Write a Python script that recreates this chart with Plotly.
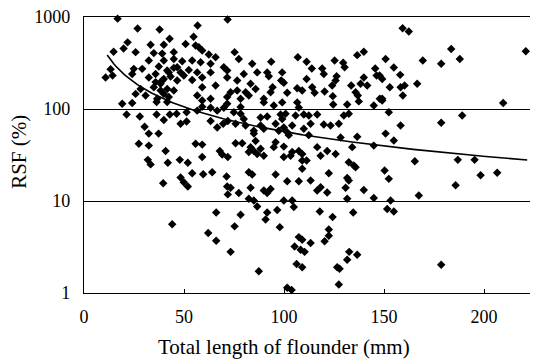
import numpy as np
import plotly.graph_objects as go

# (total length mm, RSF %) pairs, grouped by region
upper_left = [(16.8, 960), (71.8, 940), (26.8, 750), (37.8, 730), (56.8, 810), (42.8, 580),
              (54.8, 610), (21.8, 530), (14.8, 420), (19.8, 455), (13.3, 270), (10.8, 220), (14.3, 231)]

dense_cluster = [(33.3, 500), (39.9, 500), (50.8, 510), (55.8, 490), (57.4, 470), (25.8, 415),
                 (34.9, 405), (39.1, 400), (44.9, 415), (59.1, 432), (62.4, 392), (65.8, 365),
                 (75.3, 415), (77.4, 350), (32.4, 337), (39.9, 337), (44.9, 350), (49.1, 330),
                 (54.1, 337), (58.3, 322), (63.3, 310), (69.9, 285), (84.1, 310), (24.9, 273),
                 (29.1, 273), (37.4, 290), (41.6, 262), (44.9, 280), (48.3, 250), (52.4, 266),
                 (56.6, 250), (63.3, 250), (71.6, 262), (79.9, 240), (86.6, 250), (24.1, 240),
                 (32.4, 220), (35.8, 240), (39.9, 212), (43.3, 226), (46.6, 204), (49.9, 231),
                 (54.1, 207), (59.1, 220), (71.6, 220), (76.6, 204), (83.3, 188), (28.3, 165),
                 (34.9, 172), (38.3, 188), (41.6, 165), (44.9, 159), (59.1, 172), (65.8, 180),
                 (73.3, 152), (76.6, 159), (80.8, 152), (85.8, 165), (25.8, 146), (30.8, 140),
                 (36.6, 129), (39.9, 146), (42.4, 135), (56.6, 140), (59.1, 124), (63.3, 129),
                 (71.6, 135), (78.3, 129), (82.4, 140), (42.4, 250), (39.1, 204), (46.6, 285),
                 (35.8, 196), (38.3, 159)]

lower_left = [(19.1, 114), (24.1, 116), (36.3, 119), (41.6, 119), (21.3, 87), (27.9, 83),
              (36.3, 87), (39.9, 76), (42.9, 87), (46.3, 89), (48.3, 69), (51.3, 73),
              (51.3, 92), (56.6, 96), (59.1, 106), (63.3, 103), (66.6, 96), (69.9, 103),
              (71.6, 114), (63.3, 74), (66.6, 63), (69.6, 69), (71.9, 74), (30.3, 64),
              (32.4, 54), (37.3, 54), (27.4, 42), (32.4, 40), (40.8, 35), (55.8, 42),
              (59.1, 41), (59.1, 30), (67.9, 35), (69.1, 32), (71.9, 30), (31.9, 28),
              (33.3, 25), (41.9, 26), (47.9, 28), (51.9, 26), (54.1, 20), (59.6, 19.5),
              (64.1, 20.5), (71.3, 18.5), (48.3, 18), (49.9, 16), (51.9, 14.4), (39.6, 15.6),
              (71.6, 14.4), (71.9, 11.8), (44.1, 5.6), (66.1, 7.5), (62.1, 4.5), (66.1, 3.7)]

upper_middle = [(93.6, 327), (106.9, 365), (111.3, 327), (113.9, 275), (125.3, 337), (129.6, 318),
                (130.3, 285), (136.6, 385), (139.9, 420), (145.6, 275), (91.6, 250), (92.4, 227),
                (99.1, 250), (98.6, 204), (99.9, 193), (111.3, 212), (119.1, 275), (119.9, 240),
                (126.3, 227), (125.8, 204), (139.9, 220), (146.3, 231), (94.3, 172), (93.3, 152),
                (89.9, 129), (101.6, 150), (106.6, 168), (109.1, 159), (114.1, 172), (115.3, 150),
                (120.3, 155), (124.1, 180), (133.6, 180), (138.3, 188), (141.6, 180), (135.8, 152),
                (136.9, 140), (124.4, 138), (137.4, 121), (147.9, 129)]

upper_right = [(159.3, 755), (162.4, 695), (183.6, 450), (187.9, 350), (220.9, 425), (150.8, 350),
               (169.4, 337), (178.6, 310), (154.9, 282), (147.8, 231), (149.1, 212), (158.1, 235),
               (166.6, 188), (152.9, 172), (158.3, 172), (160.3, 180), (159.4, 140), (149.1, 129)]

middle = [(78.3, 105), (89.9, 118), (94.9, 109), (99.1, 118), (106.6, 118), (107.4, 104),
          (124.6, 112), (131.6, 112), (144.9, 109), (74.9, 92), (78.3, 89), (79.9, 78),
          (88.3, 81), (91.6, 83), (98.3, 87), (99.1, 78), (100.8, 89), (105.8, 85),
          (109.9, 87), (112.4, 85), (116.6, 87), (113.3, 69), (119.9, 68), (123.3, 66),
          (127.4, 69), (129.9, 85), (132.4, 89), (75.8, 69), (80.8, 66), (84.9, 58),
          (88.3, 66), (89.9, 61), (95.8, 69), (97.4, 58), (99.9, 63), (101.6, 56),
          (102.4, 52), (104.1, 66), (109.9, 61), (112.4, 52), (84.9, 54), (136.6, 50),
          (128.3, 49), (75.8, 42.5), (79.1, 42.5), (83.3, 38.5), (85.8, 45), (82.4, 34),
          (84.9, 35), (86.6, 32.5), (88.3, 37), (89.9, 31), (95.8, 43.5), (94.9, 38.5),
          (99.9, 39), (104.1, 34), (107.4, 35), (109.1, 32.5), (103.3, 31), (116.6, 38.5),
          (121.6, 35), (125.8, 32.5), (118.3, 31), (134.1, 38.5), (144.9, 40), (99.9, 30),
          (109.1, 27.5), (111.3, 27.5), (109.1, 22.4), (122.4, 20), (132.4, 26.4), (134.9, 24.3),
          (135.8, 23.3), (95.8, 19.4), (82.4, 20.5), (84.1, 19.4), (73.3, 13.9), (77.4, 12.2),
          (83.3, 13.9), (89.9, 13.0), (91.6, 12.2), (93.3, 13.5), (101.6, 16.4), (107.4, 16.4),
          (113.3, 16.7), (118.3, 14.1), (116.6, 13.0), (121.6, 12.4), (131.6, 17.8), (132.4, 16.7),
          (130.8, 13.9), (139.9, 13.2), (131.6, 10.6), (144.9, 10.8), (82.4, 10.6), (84.9, 10.1),
          (99.9, 10.1), (104.1, 10.1)]

lower_middle = [(86.6, 8.7), (104.9, 8.6), (78.3, 7.1), (91.6, 7.5), (96.6, 8.0), (90.8, 6.3),
                (75.3, 5.3), (97.9, 5.2), (117.9, 7.7), (124.3, 6.7), (134.6, 7.5), (122.4, 4.9),
                (122.4, 4.2), (120.3, 3.65), (107.4, 4.05), (109.1, 3.8), (113.3, 3.5), (105.3, 3.2),
                (108.3, 2.95), (110.3, 2.8), (73.3, 2.8), (132.6, 2.8), (136.6, 2.6), (131.6, 2.3),
                (106.3, 2.07), (109.1, 1.9), (87.4, 1.72), (126.6, 1.9), (127.8, 1.83), (127.4, 1.24),
                (101.6, 1.14), (103.8, 1.08), (153.3, 10.1), (151.6, 8.2), (154.9, 7.7), (178.6, 2.03)]

lower_right = [(149.1, 124), (209.6, 116), (152.4, 92), (189.1, 85), (178.6, 71), (158.3, 66),
               (150.8, 54), (154.9, 45.5), (165.4, 27), (186.9, 28), (195.3, 28), (150.3, 21.5),
               (152.4, 17.4), (198.3, 19), (206.6, 20.3), (185.8, 14.8), (167.4, 11.5)]

# power-law trend line RSF = a * L^b
trend_a = 3436.0
trend_b = -0.891
trend_x_start, trend_x_end = 11.6, 221.6

x_ticks = [0, 50, 100, 150, 200]
y_ticks = [1, 10, 100, 1000]

points = (upper_left + dense_cluster + lower_left + upper_middle + upper_right
          + middle + lower_middle + lower_right)
length = [p[0] for p in points]
rsf = [p[1] for p in points]

tx = np.linspace(trend_x_start, trend_x_end, 200)
ty = trend_a * tx ** trend_b

SERIF = "Liberation Serif, Times New Roman, serif"

fig = go.Figure()
fig.add_trace(go.Scatter(
    x=length, y=rsf, mode="markers",
    marker=dict(symbol="diamond", size=6.5, color="black", line=dict(width=0)),
    cliponaxis=False, showlegend=False, hoverinfo="skip"))
fig.add_trace(go.Scatter(
    x=tx, y=ty, mode="lines", line=dict(color="black", width=1.6),
    showlegend=False, hoverinfo="skip"))

fig.update_layout(
    width=533, height=364,
    margin=dict(l=84, r=3, t=17, b=71),
    paper_bgcolor="white", plot_bgcolor="white",
    font=dict(family=SERIF, color="black", size=18),
    xaxis=dict(range=[0, 223], tickvals=x_ticks, ticktext=[str(v) for v in x_ticks],
               showgrid=False, zeroline=False, showline=True, linecolor="black",
               linewidth=1.2, mirror=True, ticks="inside", ticklen=4, tickcolor="black",
               ticklabelstandoff=7, tickfont=dict(size=18, family=SERIF)),
    yaxis=dict(type="log", range=[0, 3], tickvals=y_ticks, ticktext=[str(v) for v in y_ticks],
               showgrid=True, gridcolor="black", gridwidth=1, zeroline=False,
               showline=True, linecolor="black", linewidth=1.2, ticks="",
               ticklabelstandoff=9, tickfont=dict(size=18, family=SERIF)),
    annotations=[
        dict(text="Total length of flounder (mm)", xref="paper", yref="paper",
             x=0.448, y=-0.196, xanchor="center", yanchor="middle", showarrow=False,
             font=dict(size=21, family=SERIF)),
        dict(text="RSF (%)", xref="paper", yref="paper", x=-0.146, y=0.511,
             xanchor="center", yanchor="middle", textangle=-90, showarrow=False,
             font=dict(size=21, family=SERIF)),
    ],
)

fig.write_html("out.html", config={"displayModeBar": False},
               post_script="document.body.style.margin='0';document.body.style.overflow='hidden';")
